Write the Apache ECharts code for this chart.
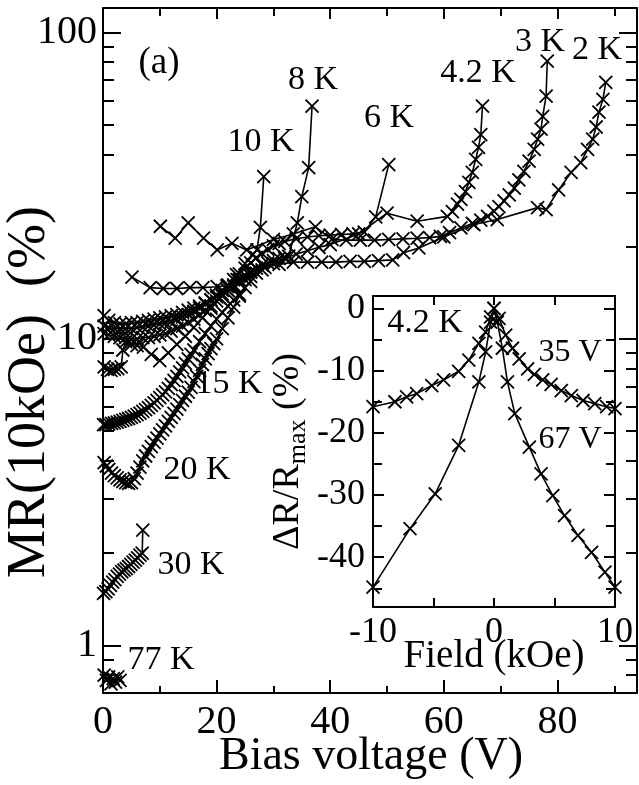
<!DOCTYPE html>
<html lang="en">
<head>
  <meta charset="UTF-8">
  <title>MR vs bias voltage</title>
  <script src="https://cdn.jsdelivr.net/npm/echarts@6/dist/echarts.min.js"></script>
  <style>
    html, body { margin: 0; padding: 0; background: #fff; }
    #chart { width: 639px; height: 785px; }
  </style>
</head>
<body>
<div id="chart"></div>
<script>
// main panel: bias voltage (V) and MR(10kOe) (%) for each temperature
var bias77 = [0.2, 0.6, 1.0, 1.4, 1.8, 2.2, 2.6, 3.0];
var mr77   = [0.80, 0.77, 0.79, 0.75, 0.78, 0.76, 0.79, 0.77];

var bias30 = [0.1, 0.5, 0.9, 1.3, 1.7, 2.1, 2.5, 2.9, 3.3, 3.7, 4.1, 4.5, 4.9, 5.3, 5.7, 6.1, 6.5, 6.9, 7.0];
var mr30   = [1.48, 1.50, 1.53, 1.57, 1.61, 1.64, 1.68, 1.71, 1.74, 1.76, 1.78, 1.81, 1.84, 1.87, 1.90, 1.93, 1.97, 2.00, 2.38];

var bias20 = [0.2, 0.6, 1.0, 1.5, 2.0, 2.5, 3.0, 3.5, 4.0, 4.5, 5.0, 5.5, 6.0, 6.5, 7.0, 7.5, 8.0, 8.5, 9.0, 9.5,
              10, 10.5, 11, 11.5, 12, 12.5, 13, 13.5, 14, 14.5, 15, 15.5, 16, 16.5, 17, 17.5, 18, 18.5, 19, 19.5,
              20, 21, 22, 23, 24];
var mr20   = [3.95, 3.85, 3.75, 3.65, 3.58, 3.52, 3.47, 3.43, 3.40, 3.38, 3.40, 3.50, 3.65, 3.82, 4.00, 4.15, 4.30, 4.45, 4.60, 4.75,
              4.90, 5.05, 5.20, 5.38, 5.55, 5.72, 5.90, 6.10, 6.30, 6.50, 6.70, 6.95, 7.25, 7.55, 7.90, 8.25, 8.60, 8.95, 9.30, 9.65,
              10.0, 10.8, 11.7, 12.7, 13.8];

var bias15 = [0.1, 0.5, 1, 1.5, 2, 2.5, 3, 3.5, 4, 4.5, 5, 5.5, 6, 6.5, 7, 7.5, 8, 8.5, 9, 9.5,
              10, 10.5, 11, 11.5, 12, 12.5, 13, 13.5, 14, 14.5, 15, 15.5, 16, 17, 18, 19, 20, 21, 22, 23, 24, 25, 26];
var mr15   = [5.25, 5.25, 5.28, 5.30, 5.32, 5.35, 5.38, 5.42, 5.46, 5.50, 5.55, 5.60, 5.66, 5.73, 5.80, 5.88, 5.97, 6.07, 6.18, 6.30,
              6.43, 6.57, 6.72, 6.90, 7.10, 7.32, 7.55, 7.80, 8.05, 8.32, 8.60, 8.90, 9.20, 9.80, 10.4, 11.0, 11.6, 12.2, 12.8, 13.4, 14.0, 14.7, 15.4];

var bias10 = [0.2, 0.8, 1.4, 2.0, 2.6, 3.2, 3.5, 4.0, 5.0, 6.0, 7.1, 8.5, 10, 11.5, 13, 14.5, 16, 17.5, 19, 20.5,
              22, 23.5, 25, 26.3, 27.1, 27.7, 28.3];
var mr10   = [8.1, 7.95, 7.9, 7.95, 8.0, 8.1, 9.2, 9.8, 9.6, 9.5, 9.4, 8.9, 8.5, 9.0, 9.6, 10.2, 10.9, 11.7, 12.6, 13.6,
              14.8, 16.2, 17.6, 18.8, 19.5, 23.1, 33.8];

var bias8 = [0.2, 1, 2, 3, 4, 5, 6, 7, 8, 9, 10, 11, 12, 13, 14, 15, 16, 17, 18, 19, 20, 21, 22, 23, 24, 25, 26, 27, 28, 29,
             30, 31, 32, 32.7, 34.2, 35.0, 36.2, 36.8];
var mr8   = [10.4, 10.3, 10.2, 10.1, 10.1, 10.0, 10.0, 10.1, 10.1, 10.2, 10.3, 10.4, 10.6, 10.8, 11.0, 11.3, 11.6, 12.0, 12.4, 12.8,
             13.3, 13.8, 14.4, 15.0, 15.6, 16.1, 16.6, 17.0, 17.4, 17.7, 18.0, 18.3, 18.5, 18.6, 23.9, 29.1, 36.2, 57.4];

var bias6 = [0.2, 1, 2, 3, 4, 5, 6, 7, 8, 9, 10, 11, 12, 13, 14, 15, 16, 17, 18, 19, 20, 21, 22, 23, 24, 25, 26, 27, 28, 29,
             30, 31, 32, 34, 36, 38, 40, 42, 44, 46, 48.0, 50.3];
var mr6   = [11.0, 10.9, 10.8, 10.8, 10.8, 10.8, 10.9, 10.9, 11.0, 11.1, 11.2, 11.3, 11.4, 11.6, 11.8, 12.0, 12.3, 12.6, 13.0, 13.4,
             13.9, 14.4, 15.0, 15.6, 16.3, 17.0, 17.7, 18.4, 19.0, 19.6, 20.1, 20.5, 20.8, 21.2, 21.5, 21.7, 21.8, 21.9, 22.0, 22.3, 25.0, 37.0];

var bias42 = [0.2, 1, 2, 3, 4, 5, 6, 7, 8, 9, 10, 11, 12, 13, 14, 15, 16, 17, 18, 19, 20, 21, 22, 23, 24, 25, 26, 27, 28,
              30, 32, 34, 36, 38, 40, 45, 50.0, 55.3, 60.6, 61.5, 62.4, 63.0, 63.8, 64.4, 65.0, 65.6, 66.1, 66.5, 66.8];
var mr42   = [11.9, 11.5, 11.3, 11.2, 11.2, 11.3, 11.3, 11.4, 11.5, 11.6, 11.7, 11.8, 11.9, 12.0, 12.2, 12.4, 12.6, 12.8, 13.1, 13.4,
              13.7, 14.0, 14.4, 14.8, 15.2, 15.6, 16.0, 16.4, 16.8, 17.6, 18.3, 18.9, 19.4, 19.9, 20.3, 22.0, 25.7, 24.2, 25.1,
              26.0, 27.5, 28.5, 30.2, 32.4, 34.9, 38.5, 42.1, 46.4, 57.4];

var bias3 = [10.1, 12.7, 15.0, 17.7, 20.1, 22.7, 25.3, 30.0, 33.5, 37.4, 40.3, 42.8, 45.3, 47.8, 50.3, 52.8, 55.3, 57.5, 59.4,
             61.0, 63.0, 65.0, 66.5, 67.7, 68.8, 69.7, 70.6, 71.5, 72.4, 73.2, 74.1, 75.0, 75.9, 76.5, 77.1, 77.4, 78.0, 78.2];
var mr3   = [23.3, 21.3, 23.9, 21.3, 19.5, 20.5, 19.5, 21.1, 22.0, 23.2, 21.1, 21.0, 21.0, 21.0, 21.1, 21.2, 21.3, 21.4, 21.6,
             22.2, 23.0, 23.8, 24.4, 25.1, 26.1, 27.0, 28.2, 29.5, 31.0, 33.0, 35.2, 38.0, 41.5, 44.8, 48.3, 53.2, 61.9, 80.5];

var bias2 = [5.1, 8.3, 10.6, 13.0, 15.3, 17.6, 20.1, 21.8, 23.6, 26, 28.5, 31, 33.5, 36, 38.5, 41, 43.5, 46, 48.5, 51,
             52.9, 55.6, 60, 65.3, 69.4, 76.5, 78.0, 80.2, 82.4, 84.1, 85.3, 86.2, 86.8, 87.3, 88.0, 88.5];
var mr2   = [15.9, 14.7, 14.6, 14.6, 14.7, 14.7, 14.8, 14.9, 15.6, 16.5, 17.1, 17.5, 17.8, 17.8, 17.8, 17.8, 17.9, 17.9, 18.0, 18.1,
             19.1, 19.8, 21.5, 23.6, 24.5, 26.8, 26.4, 30.6, 34.9, 37.6, 41.5, 44.8, 49.1, 54.9, 60.4, 68.7];

// inset: field (kOe) and dR/Rmax (%) at 4.2 K
var field35 = [-10, -8.19, -7.22, -6.39, -5.14, -4.17, -2.92, -2.08, -1.25, -0.69, -0.28, 0, 0.42, 0.97, 1.53, 2.08,
               2.78, 3.33, 4.03, 4.72, 5.56, 6.39, 7.36, 8.33, 9.31, 10];
var dr35    = [-15.8, -15.0, -14.2, -13.7, -12.4, -11.5, -10.1, -8.3, -5.6, -3.8, -1.35, 0, -1.6, -4.3, -6.4, -8.1,
               -9.7, -10.6, -11.5, -12.2, -13.2, -14.0, -14.8, -15.3, -15.8, -16.1];
var field67 = [-10, -6.94, -4.86, -2.92, -1.25, -0.69, -0.28, 0, 0.28, 0.69, 1.11, 1.72, 2.92, 3.89, 4.86, 5.83, 6.94, 8.06, 9.17, 10];
var dr67    = [-44.8, -35.4, -29.8, -22.0, -11.8, -7.0, -2.2, 0, -2.2, -6.4, -11.8, -16.9, -22.3, -26.6, -30.1, -33.3,
               -36.5, -39.2, -42.4, -44.8];

var FONT = 'Liberation Serif';
var CROSS = 'path://M0,0L10,10M10,0L0,10';

function pairs(xs, ys) {
  return xs.map(function (x, i) { return [x, ys[i]]; });
}

function curve(xs, ys, xi, yi) {
  return {
    type: 'line',
    xAxisIndex: xi,
    yAxisIndex: yi,
    data: pairs(xs, ys),
    symbol: CROSS,
    symbolSize: 13,
    showAllSymbol: true,
    lineStyle: { color: '#000', width: 1.6 },
    itemStyle: { color: '#000', borderColor: '#000', borderWidth: 1.8 },
    silent: true
  };
}

function frameAxis(extra) {
  var base = {
    axisLine: { show: true, onZero: false, lineStyle: { color: '#000', width: 2 } },
    axisTick: { show: true, inside: true, lineStyle: { color: '#000', width: 2 } },
    minorTick: { show: true, lineStyle: { color: '#000', width: 2 } },
    splitLine: { show: false },
    axisLabel: { show: false }
  };
  return Object.assign(base, extra);
}

var tickLabel = { fontFamily: FONT, color: '#000' };

var myChart = echarts.init(document.getElementById('chart'));

var option = {
  animation: false,
  backgroundColor: '#fff',
  grid: [
    { left: 103, top: 8, right: 2, bottom: 92, outerBoundsMode: 'none', containLabel: false },
    { left: 373, top: 296, width: 242, height: 311, outerBoundsMode: 'none', containLabel: false,
      show: true, backgroundColor: '#fff', borderWidth: 0 }
  ],
  xAxis: [
    frameAxis({
      gridIndex: 0, type: 'value', position: 'bottom', min: 0, max: 94, interval: 20,
      axisTick: { inside: true, length: 13, lineStyle: { color: '#000', width: 2 } },
      minorTick: { show: true, splitNumber: 2, length: 7, lineStyle: { color: '#000', width: 2 } },
      axisLabel: Object.assign({ show: true, fontSize: 40, margin: 9, showMaxLabel: false }, tickLabel)
    }),
    frameAxis({
      gridIndex: 0, type: 'value', position: 'top', min: 0, max: 94, interval: 20,
      axisTick: { inside: true, length: 11, lineStyle: { color: '#000', width: 2 } },
      minorTick: { show: true, splitNumber: 2, length: 8, lineStyle: { color: '#000', width: 2 } }
    }),
    frameAxis({
      gridIndex: 1, type: 'value', position: 'bottom', min: -10, max: 10, interval: 5,
      axisTick: { inside: true, length: 9, lineStyle: { color: '#000', width: 2 } },
      minorTick: { show: false },
      axisLabel: Object.assign({
        show: true, fontSize: 36, margin: 8,
        formatter: function (v) { return v % 10 === 0 ? String(v) : ''; }
      }, tickLabel)
    }),
    frameAxis({
      gridIndex: 1, type: 'value', position: 'top', min: -10, max: 10, interval: 5,
      axisTick: { inside: true, length: 9, lineStyle: { color: '#000', width: 2 } },
      minorTick: { show: false }
    })
  ],
  yAxis: [
    frameAxis({
      gridIndex: 0, type: 'log', logBase: 10, position: 'left', min: 0.7, max: 120,
      axisTick: { inside: true, length: 18, lineStyle: { color: '#000', width: 2 } },
      minorTick: { show: true, splitNumber: 9, length: 11, lineStyle: { color: '#000', width: 2 } },
      axisLabel: Object.assign({ show: true, fontSize: 40, margin: 6, showMinLabel: false, showMaxLabel: false }, tickLabel)
    }),
    frameAxis({
      gridIndex: 0, type: 'log', logBase: 10, position: 'right', min: 0.7, max: 120,
      axisTick: { inside: true, length: 18, lineStyle: { color: '#000', width: 2 } },
      minorTick: { show: true, splitNumber: 9, length: 11, lineStyle: { color: '#000', width: 2 } }
    }),
    frameAxis({
      gridIndex: 1, type: 'value', position: 'left', min: -48, max: 2,
      axisTick: { inside: true, length: 11, lineStyle: { color: '#000', width: 2 } },
      minorTick: { show: true, splitNumber: 2, length: 9, lineStyle: { color: '#000', width: 2 } },
      axisLabel: Object.assign({ show: true, fontSize: 36, margin: 8, showMinLabel: false, showMaxLabel: false }, tickLabel),
      name: '{a|ΔR/R}{b|max}{a| (%)}', nameLocation: 'middle', nameGap: 62,
      nameTextStyle: {
        rich: {
          a: { fontFamily: FONT, fontSize: 38, color: '#000', lineHeight: 46 },
          b: { fontFamily: FONT, fontSize: 26, color: '#000', lineHeight: 26, verticalAlign: 'bottom', padding: [10, 0, 0, 0] }
        }
      }
    }),
    frameAxis({
      gridIndex: 1, type: 'value', position: 'right', min: -48, max: 2,
      axisTick: { inside: true, length: 11, lineStyle: { color: '#000', width: 2 } },
      minorTick: { show: true, splitNumber: 2, length: 9, lineStyle: { color: '#000', width: 2 } }
    })
  ],
  series: [
    curve(bias77, mr77, 0, 0),
    curve(bias30, mr30, 0, 0),
    curve(bias20, mr20, 0, 0),
    curve(bias15, mr15, 0, 0),
    curve(bias10, mr10, 0, 0),
    curve(bias8, mr8, 0, 0),
    curve(bias6, mr6, 0, 0),
    curve(bias42, mr42, 0, 0),
    curve(bias3, mr3, 0, 0),
    curve(bias2, mr2, 0, 0),
    curve(field35, dr35, 2, 2),
    curve(field67, dr67, 2, 2)
  ],
  graphic: [
    {
      type: 'text', x: 30, y: 392, rotation: Math.PI / 2, z: 100,
      style: { text: 'MR(10kOe)  (%)', fontFamily: FONT, fontSize: 54, fill: '#000', align: 'center', verticalAlign: 'middle' }
    }
  ].concat([
    ['Bias voltage (V)', 371, 757, 46],
    ['Field (kOe)', 494, 657, 39],
    ['(a)', 159, 63, 37],
    ['8 K', 313, 80, 34],
    ['10 K', 261, 142, 34],
    ['6 K', 389, 118, 34],
    ['4.2 K', 478, 73, 34],
    ['3 K', 540, 42, 34],
    ['2 K', 597, 50, 34],
    ['15 K', 229, 384, 34],
    ['20 K', 197, 470, 34],
    ['30 K', 191, 565, 34],
    ['77 K', 161, 660, 34],
    ['4.2 K', 425, 323, 34],
    ['35 V', 570, 353, 32],
    ['67 V', 570, 440, 32]
  ].map(function (t) {
    return {
      type: 'text', x: t[1], y: t[2], z: 100,
      style: { text: t[0], fontFamily: FONT, fontSize: t[3], fill: '#000', align: 'center', verticalAlign: 'middle' }
    };
  }))
};

myChart.setOption(option);
</script>
</body>
</html>
